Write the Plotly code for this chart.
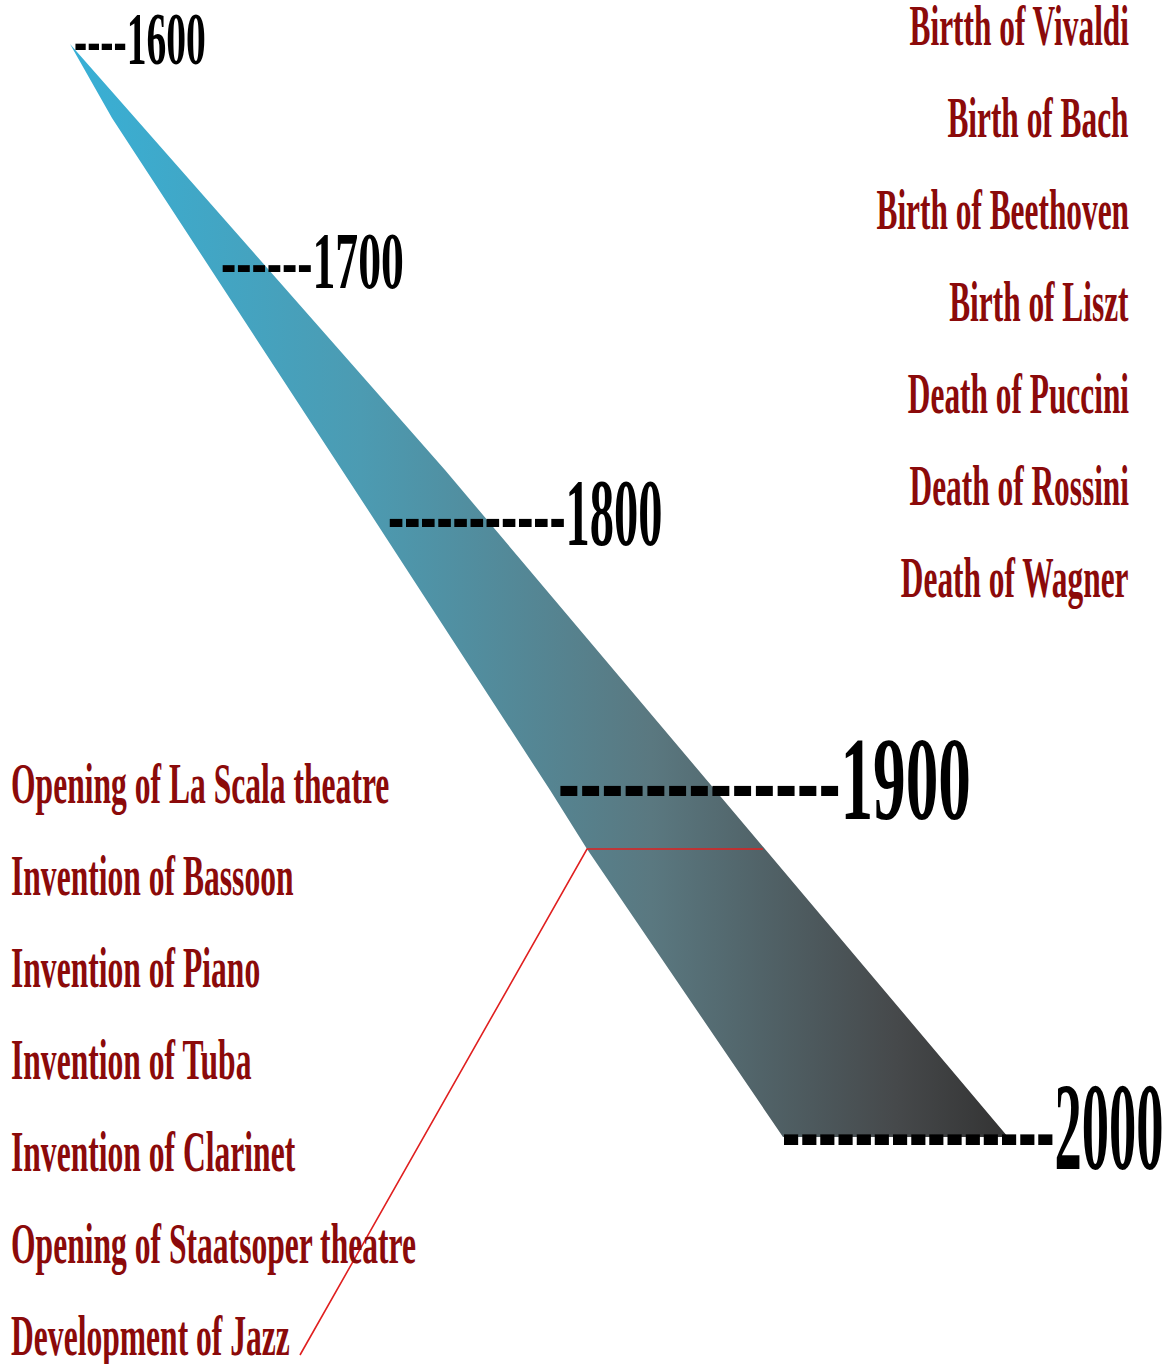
import json
import plotly.graph_objects as go

# ---------------- data ----------------
years = [1600, 1700, 1800, 1900, 2000]
year_dash_counts = [4, 6, 11, 13, 15]
composer_events = [
    "Birtth of Vivaldi",
    "Birth of Bach",
    "Birth of Beethoven",
    "Birth of Liszt",
    "Death of Puccini",
    "Death of Rossini",
    "Death of Wagner",
]
music_events = [
    "Opening of La Scala theatre",
    "Invention of Bassoon",
    "Invention of Piano",
    "Invention of Tuba",
    "Invention of Clarinet",
    "Opening of Staatsoper theatre",
    "Development of Jazz",
]

# ---------------- layout geometry (canvas units) ----------------
W, H = 1170, 1364
FONT = "Liberation Serif"
EVENT_COLOR = "#8B0A0A"

# wedge outline (tip -> right edge -> bottom -> left edge)
wedge_right_x = [70, 445, 1008]
wedge_right_y = [44, 470, 1137]
wedge_left_x = [783, 587, 550, 370, 112, 70]
wedge_left_y = [1137, 849, 790, 513, 118, 44]
wedge_colors = [[0.0, "#38b0d6"], [0.31, "#4c9bb2"], [0.62, "#5a7880"],
                [0.88, "#46494b"], [1.0, "#333333"]]

# year label placement
year_x = [72, 219, 386, 556, 780]
year_baseline = [64, 289, 545, 820, 1170]
year_size = [74, 81, 96, 118, 124]
year_squeeze = [0.535, 0.565, 0.505, 0.553, 0.44]

# event label placement
right_x = 1131
right_baseline0 = 45
left_x = 9
left_baseline0 = 803
row_step = 92
event_size = 56
event_squeeze_right = 0.56
event_squeeze_left = 0.564

# connector line
connector_x = [300, 587, 763]
connector_y = [1355, 849, 849]

fig = go.Figure()

fig.add_trace(go.Scatter(
    x=wedge_right_x + wedge_left_x,
    y=wedge_right_y + wedge_left_y,
    mode="lines",
    line=dict(width=0),
    fill="toself",
    fillgradient=dict(type="horizontal", colorscale=wedge_colors),
    hoverinfo="skip",
    showlegend=False,
))

fig.add_trace(go.Scatter(
    x=connector_x, y=connector_y, mode="lines",
    line=dict(color="#e02020", width=1.6),
    hoverinfo="skip", showlegend=False,
))

annotations = []
squeeze_cfg = []


def center_from_baseline(baseline, size):
    return baseline - 0.34 * size


for yr, n, x, b, s, q in zip(years, year_dash_counts, year_x, year_baseline,
                             year_size, year_squeeze):
    annotations.append(dict(
        x=x, y=center_from_baseline(b, s), xref="x", yref="y",
        text="-" * n + str(yr), showarrow=False,
        xanchor="left", yanchor="middle",
        font=dict(family=FONT, size=s, color="black", weight="bold"),
    ))
    squeeze_cfg.append([q, "left"])

for i, ev in enumerate(composer_events):
    annotations.append(dict(
        x=right_x, y=center_from_baseline(right_baseline0 + i * row_step, event_size),
        xref="x", yref="y", text=ev, showarrow=False,
        xanchor="right", yanchor="middle",
        font=dict(family=FONT, size=event_size, color=EVENT_COLOR, weight="bold"),
    ))
    squeeze_cfg.append([event_squeeze_right, "right"])

for i, ev in enumerate(music_events):
    annotations.append(dict(
        x=left_x, y=center_from_baseline(left_baseline0 + i * row_step, event_size),
        xref="x", yref="y", text=ev, showarrow=False,
        xanchor="left", yanchor="middle",
        font=dict(family=FONT, size=event_size, color=EVENT_COLOR, weight="bold"),
    ))
    squeeze_cfg.append([event_squeeze_left, "left"])

fig.update_layout(
    width=W, height=H,
    margin=dict(l=0, r=0, t=0, b=0),
    paper_bgcolor="white", plot_bgcolor="white",
    xaxis=dict(range=[0, W], visible=False, fixedrange=True),
    yaxis=dict(range=[H, 0], visible=False, fixedrange=True),
    annotations=annotations,
    hovermode=False,
    showlegend=False,
)

post_js = """
document.body.style.margin = '0';
document.body.style.padding = '0';
document.documentElement.style.overflow = 'hidden';
var gd = document.getElementById('{plot_id}');
var cfg = __CFG__;
function squeezeText(){
  var anns = gd.querySelectorAll('g.annotation');
  anns.forEach(function(g){
    var i = +g.getAttribute('data-index');
    var c = cfg[i];
    if(!c) return;
    var t = g.querySelector('text.annotation-text');
    if(!t) return;
    var bb = t.getBBox();
    var ox = (c[1] === 'right') ? (bb.x + bb.width) : bb.x;
    t.setAttribute('transform', 'translate(' + ox + ',0) scale(' + c[0] + ',1) translate(' + (-ox) + ',0)');
  });
}
squeezeText();
gd.on('plotly_afterplot', squeezeText);
""".replace("__CFG__", json.dumps(squeeze_cfg))

fig.write_html("out.html", config={"displayModeBar": False}, post_script=post_js)
